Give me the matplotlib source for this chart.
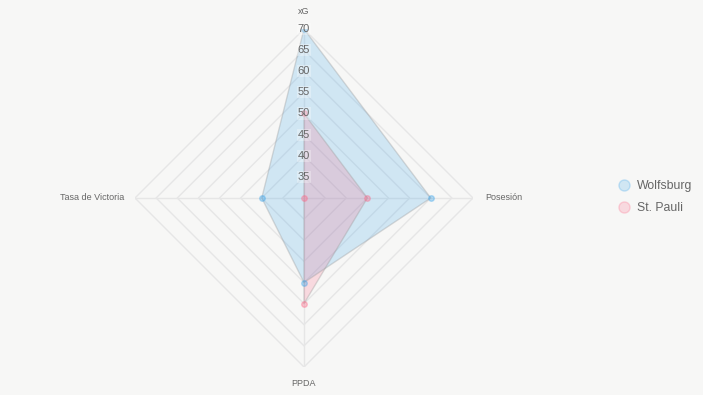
import numpy as np
import matplotlib
matplotlib.use("Agg")
import matplotlib.pyplot as plt
from matplotlib.lines import Line2D

plt.rcParams["font.family"] = ["Liberation Sans", "DejaVu Sans"]

categories = ["xG", "Posesión", "PPDA", "Tasa de Victoria"]
teams = ["Wolfsburg", "St. Pauli"]
wolfsburg = [70, 60, 50, 40]
st_pauli = [50, 45, 55, 30]
r_ticks = [35, 40, 45, 50, 55, 60, 65, 70]
r_min, r_max = 30, 70

bg = "#f7f7f6"
fig = plt.figure(figsize=(7.03, 3.95), dpi=100, facecolor=bg)
W, H = 703, 395
cx, cy, R = 304, 198, 169
ax = fig.add_axes([(cx - R) / W, (H - cy - R) / H, 2 * R / W, 2 * R / H], projection="polar")
ax.set_facecolor("none")
ax.set_theta_offset(np.pi / 2)
ax.set_theta_direction(-1)
ax.set_ylim(r_min, r_max)
ax.grid(False)
ax.spines["polar"].set_visible(False)
ax.set_xticks([])
ax.set_yticks([])

n = len(categories)
theta = np.arange(n) * 2 * np.pi / n
theta_c = np.append(theta, theta[0])

grid_col = "#e6e6e6"
for rv in r_ticks:
    ax.plot(theta_c, [rv] * (n + 1), color=grid_col, lw=1, zorder=1)
for t in theta:
    ax.plot([t, t], [r_min, r_max], color=grid_col, lw=1, zorder=1)

series = [
    (wolfsburg, (54/255, 162/255, 235/255)),
    (st_pauli, (255/255, 99/255, 132/255)),
]
for vals, col in series:
    v = np.append(vals, vals[0])
    ax.fill(theta_c, v, color=col, alpha=0.2, lw=0, zorder=2)
    ax.plot(theta_c, v, color=(0.6, 0.6, 0.6, 0.35), lw=1, zorder=3)
    ax.plot(theta, vals, "o", ms=4, mfc=(*col, 0.35), mec=(*col, 0.35), zorder=4)

for rv in r_ticks:
    ax.text(0, rv, str(rv), ha="center", va="center", fontsize=8, color="#666666",
            bbox=dict(boxstyle="square,pad=0.1", fc="white", ec="none", alpha=0.3), zorder=5)

lab_kw = dict(fontsize=6.5, color="#666666")
fig.text(cx / W, 1 - 11 / H, categories[0], ha="center", va="center", **lab_kw)
fig.text(485 / W, 1 - 198 / H, categories[1], ha="left", va="center", **lab_kw)
fig.text(cx / W, 1 - 383 / H, categories[2], ha="center", va="center", **lab_kw)
fig.text(124 / W, 1 - 198 / H, categories[3], ha="right", va="center", **lab_kw)

handles = [
    Line2D([], [], ls="none", marker="o", ms=8, mfc=(*c, 0.2), mec=(*c, 0.25))
    for _, c in series
]
fig.legend(handles, teams, loc="center left", bbox_to_anchor=(606 / W, 1 - 197 / H),
           frameon=False, fontsize=8.8, labelcolor="#666666", handletextpad=0.4,
           handlelength=1.2, labelspacing=0.8)

fig.savefig("out.png", dpi=100, facecolor=bg)
